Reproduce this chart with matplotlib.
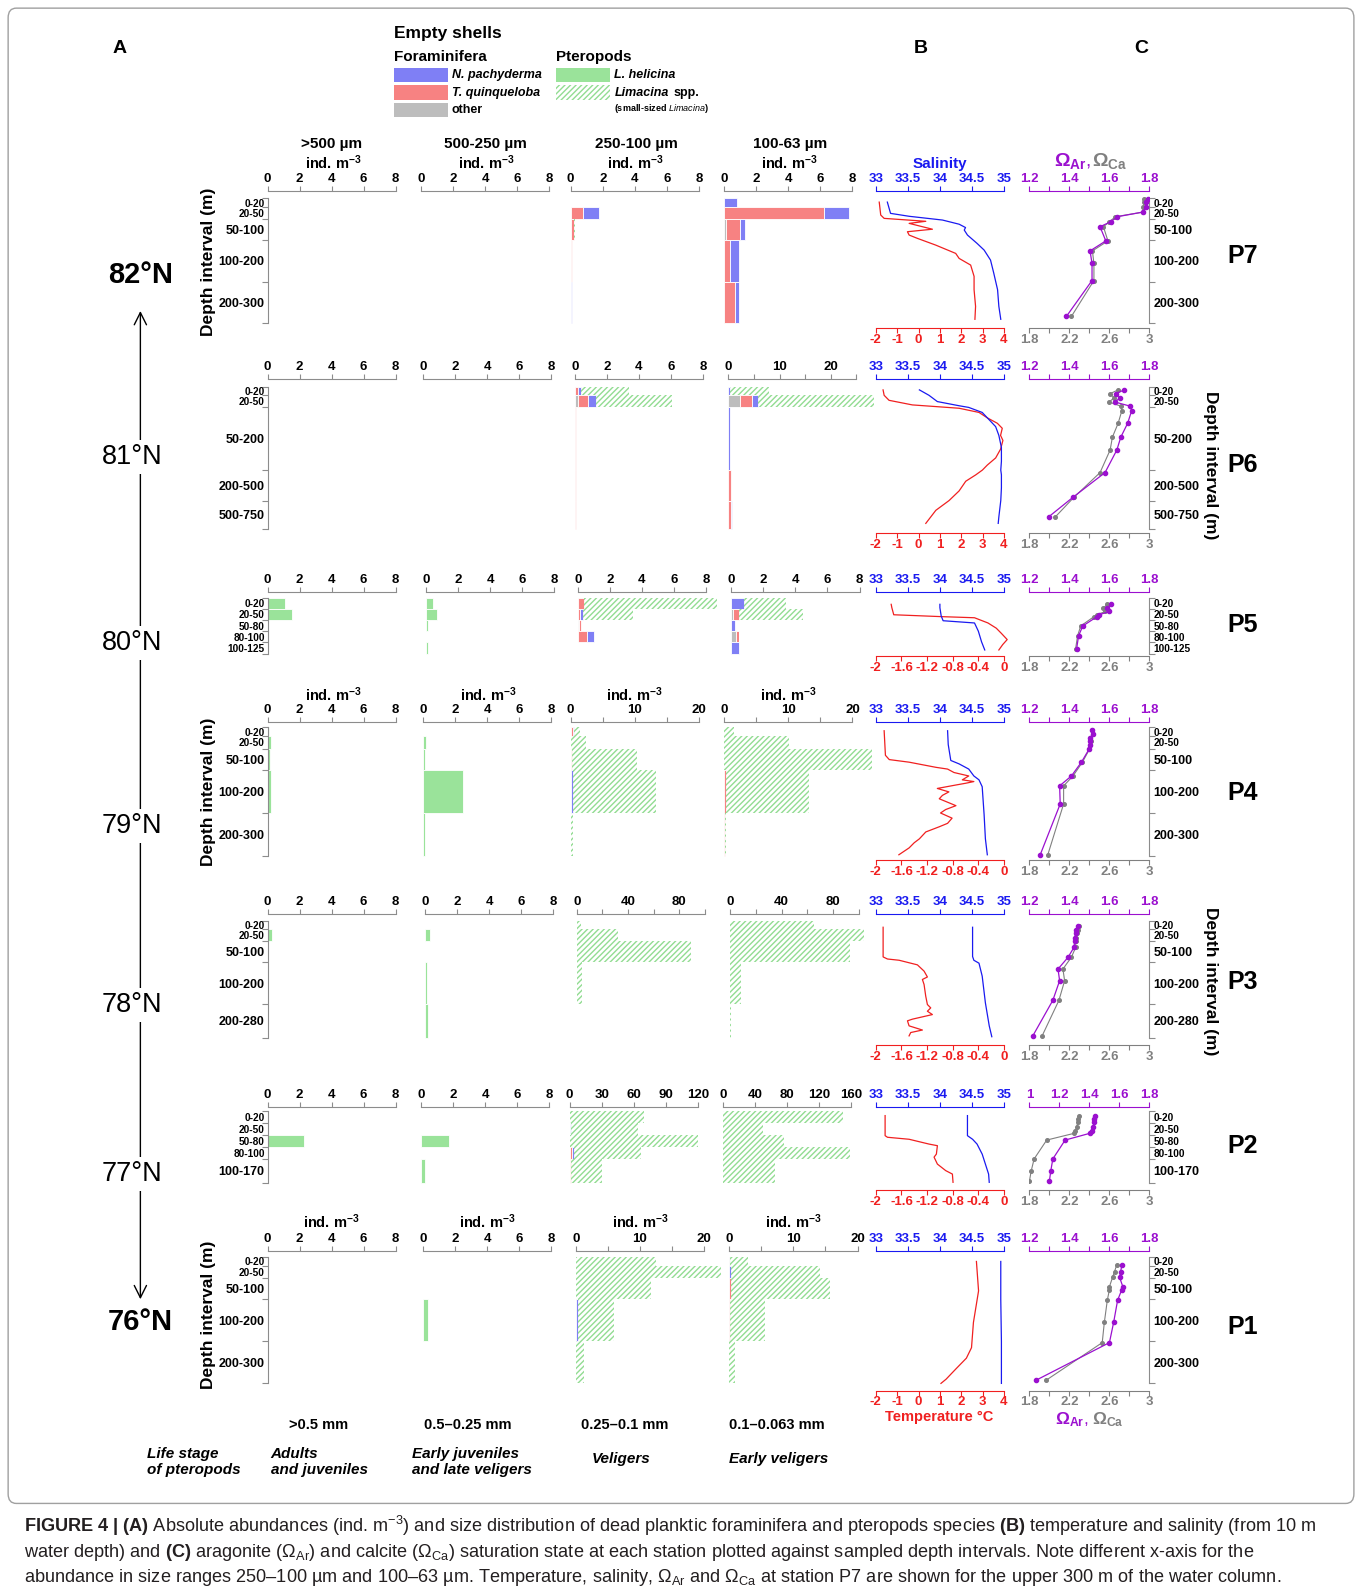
import numpy as np
import matplotlib
matplotlib.use('Agg')
import matplotlib.pyplot as plt
from matplotlib import font_manager
from matplotlib.patches import Rectangle, FancyBboxPatch

# ---------------------------------------------------------------- data
stations = ['P7', 'P6', 'P5', 'P4', 'P3', 'P2', 'P1']
latitudes = ['82°N', '81°N', '80°N', '79°N', '78°N', '77°N', '76°N']
size_classes = ['>500 µm', '500-250 µm', '250-100 µm', '100-63 µm']
size_mm = ['>0.5 mm', '0.5–0.25 mm', '0.25–0.1 mm', '0.1–0.063 mm']
life_stages = ['Adults\nand juveniles', 'Early juveniles\nand late veligers', 'Veligers', 'Early veligers']
groups = ['other', 'T. quinqueloba', 'N. pachyderma', 'L. helicina', 'Limacina spp.']

depth_edges = {
    'P7': [0, 20, 50, 100, 200, 300],
    'P6': [0, 20, 50, 200, 500, 750],
    'P5': [0, 20, 50, 80, 100, 125],
    'P4': [0, 20, 50, 100, 200, 300],
    'P3': [0, 20, 50, 100, 200, 280],
    'P2': [0, 20, 50, 80, 100, 170],
    'P1': [0, 20, 50, 100, 200, 300],
}
# broken / stretched depth axes (depth -> axis units)
depth_axis_breaks = {
    'P6': ([0, 200, 500, 750], [0, 200, 273, 341]),
    'P5': ([0, 20, 50, 80, 100, 125], [0, 26, 52, 78, 104, 130]),
    'P2': ([0, 20, 50, 80, 100, 170], [0, 26, 52, 78, 104, 156]),
}

# abundances (ind. m-3): [size class][depth interval][other, T.q., N.p., L.hel., Limacina spp.]
Z = [0, 0, 0, 0, 0]
ab_P7 = [[Z] * 5, [Z] * 5,
         [[0, 0, 0, 0, 0.05], [0, 0.8, 1.0, 0, 0], [0, 0.2, 0, 0, 0.05], [0, 0.1, 0, 0, 0], [0, 0, 0.1, 0, 0]],
         [[0, 0, 0.8, 0, 0], [0, 6.2, 1.6, 0, 0], [0.1, 0.9, 0.3, 0, 0], [0, 0.35, 0.6, 0, 0], [0, 0.7, 0.2, 0, 0]]]
ab_P6 = [[Z] * 5, [Z] * 5,
         [[0, 0.2, 0.2, 0, 3.0], [0.2, 0.6, 0.5, 0, 4.8], [0, 0.1, 0, 0, 0], [0, 0.1, 0, 0, 0], [0, 0.1, 0, 0, 0]],
         [[0, 0, 0.4, 0, 7.5], [2.2, 2.5, 1.0, 0, 22.8], [0, 0, 0.4, 0, 0], [0, 0.6, 0, 0, 0], [0, 0.5, 0.2, 0, 0]]]
ab_P5 = [[[0, 0, 0, 1.1, 0], [0, 0, 0, 1.5, 0], Z, Z, Z],
         [[0, 0, 0, 0.4, 0], [0, 0, 0, 0.7, 0], [0, 0, 0, 0.1, 0], Z, [0, 0, 0, 0.1, 0]],
         [[0, 0.4, 0, 0, 8.3], [0, 0.15, 0.2, 0, 3.1], [0.05, 0.15, 0, 0, 0], [0, 0.6, 0.4, 0, 0], [0, 0, 0.03, 0, 0]],
         [[0, 0, 0.8, 0, 2.6], [0.1, 0.4, 0, 0, 4.0], [0, 0, 0.2, 0, 0], [0.3, 0.15, 0.05, 0, 0], [0, 0, 0.5, 0, 0]]]
ab_P4 = [[[0, 0, 0, 0.1, 0], [0, 0, 0, 0.2, 0], [0, 0, 0, 0.15, 0], [0, 0, 0, 0.2, 0], Z],
         [Z, [0, 0, 0, 0.2, 0], [0, 0, 0, 0.1, 0], [0, 0, 0, 2.5, 0], [0, 0, 0, 0.1, 0]],
         [[0, 0.4, 0.2, 0, 0.9], [0, 0, 0.1, 0, 2.3], [0, 0.15, 0, 0, 10.2], [0, 0.1, 0.2, 0, 13.0], [0, 0.1, 0, 0, 0.2]],
         [[0, 0, 0, 0, 1.5], [0, 0, 0, 0, 10.1], [0, 0, 0, 0, 23.0], [0, 0.3, 0, 0, 12.9], [0, 0.1, 0, 0, 0.2]]]
ab_P3 = [[Z, [0, 0, 0, 0.3, 0], Z, Z, Z],
         [Z, [0, 0, 0, 0.3, 0], Z, [0, 0, 0, 0.1, 0], [0, 0, 0, 0.2, 0]],
         [[0, 0, 0, 0, 3], [0, 0, 0, 0, 32], [0, 0, 0, 0, 89], [0, 0, 0, 0, 4], [0, 0, 0, 0, 0.5]],
         [[0, 0, 0, 0, 65], [0, 0, 0, 0, 104], [0, 0, 0, 0, 93], [0, 0, 0, 0, 8], [0, 0, 0, 0, 0.5]]]
ab_P2 = [[Z, Z, [0, 0, 0, 2.3, 0], Z, Z],
         [Z, Z, [0, 0, 0, 1.75, 0], Z, [0, 0, 0, 0.25, 0]],
         [[0.5, 0, 0, 0, 69], [0, 0, 1.0, 0, 63], [0, 0, 0, 0, 120], [0, 2.0, 2.5, 0, 62], [0, 1.0, 0, 0, 29]],
         [[0, 0, 0, 0, 150], [0, 0, 0, 0, 50], [0, 0, 0, 0, 76], [0, 0, 0, 0, 158], [0, 0, 0, 0, 65]]]
ab_P1 = [[Z] * 5,
         [Z, Z, Z, [0, 0, 0, 0.3, 0], Z],
         [[0, 0, 0, 0, 12.5], [0, 0, 0, 0, 22.7], [0, 0, 0, 0, 11.8], [0, 0.1, 0.2, 0, 5.7], [0, 0, 0, 0, 1.3]],
         [[0.1, 0, 0, 0, 2.8], [0, 0, 0.2, 0, 14.0], [0, 0.3, 0, 0, 15.4], [0, 0.1, 0, 0, 5.5], [0, 0, 0, 0, 0.9]]]
abundance = {'P7': ab_P7, 'P6': ab_P6, 'P5': ab_P5, 'P4': ab_P4, 'P3': ab_P3, 'P2': ab_P2, 'P1': ab_P1}

# axis maxima of the four abundance panels
bar_xmax = {'P7': [8, 8, 8, 8], 'P6': [8, 8, 8, 25], 'P5': [8, 8, 8, 8], 'P4': [8, 8, 20, 20],
            'P3': [8, 8, 100, 100], 'P2': [8, 8, 120, 160], 'P1': [8, 8, 20, 20]}

# temperature profiles (depth m, °C)
temp_depth = {
    'P7': [9, 40, 48, 55, 60, 74, 80, 88, 96, 112, 132, 144, 160, 187, 219, 259, 290],
    'P6': [8, 21, 33, 44, 48, 52, 62, 75, 88, 100, 117, 129, 150, 171, 188, 200, 247, 310, 405, 500, 586, 701],
    'P5': [12, 18, 36, 41, 44, 58, 72, 84, 95, 105, 117],
    'P4': [8, 65, 75, 81, 93, 97, 105, 113, 122, 126, 130, 134, 142, 150, 158, 166, 182, 191, 199, 211, 223, 231,
           243, 259, 268, 280, 288, 296],
    'P3': [16, 87, 92, 95, 106, 121, 135, 141, 153, 181, 201, 209, 217, 225, 236, 240, 252, 262, 268, 276],
    'P2': [8, 52, 56, 61, 73, 77, 92, 97, 115, 134, 144, 168],
    'P1': [10, 80, 155, 215, 240, 265, 290, 300],
}
temp = {
    'P7': [-1.84, -1.77, -1.61, 0.34, -0.44, 0.65, -0.52, -0.44, -0.05, 0.80, 1.74, 1.90, 2.44, 2.60, 2.60, 2.67, 2.64],
    'P6': [-1.66, -1.61, -1.38, -0.29, 0.81, 1.90, 2.83, 3.22, 3.69, 3.92, 3.84, 3.95, 3.84, 3.61, 3.22, 2.99, 2.68,
           2.21, 1.90, 1.43, 0.81, 0.34],
    'P5': [-1.76, -1.75, -1.72, -0.98, -0.46, -0.25, -0.12, -0.04, 0.05, -0.02, -0.08],
    'P4': [-1.87, -1.85, -1.79, -1.48, -1.06, -0.88, -0.78, -0.55, -0.65, -0.47, -0.60, -0.75, -1.04, -0.86, -0.96,
           -1.01, -0.75, -0.91, -0.99, -0.81, -0.88, -1.01, -1.22, -1.32, -1.40, -1.48, -1.56, -1.64],
    'P3': [-1.886, -1.886, -1.818, -1.636, -1.351, -1.247, -1.195, -1.273, -1.247, -1.221, -1.195, -1.143, -1.195,
           -1.117, -1.429, -1.506, -1.481, -1.273, -1.455, -1.481],
    'P2': [-1.855, -1.855, -1.818, -1.48, -1.169, -1.039, -1.055, -1.091, -1.039, -0.909, -0.805, -0.795],
    'P1': [2.71, 2.81, 2.57, 2.48, 2.24, 1.76, 1.29, 1.05],
}
# salinity profiles (depth m, PSU)
sal_depth = {
    'P7': [9, 36, 43, 52, 62, 70, 76, 88, 108, 124, 148, 179, 219, 259, 290],
    'P6': [8, 21, 36, 46, 50, 62, 83, 96, 117, 146, 179, 200, 247, 375, 500, 644, 701],
    'P5': [12, 18, 39, 52, 58, 80, 99, 117],
    'P4': [8, 40, 77, 85, 97, 113, 122, 138, 203, 259, 296],
    'P3': [16, 86, 95, 102, 133, 197, 252, 278],
    'P2': [8, 52, 61, 73, 92, 115, 144, 168],
    'P1': [10, 100, 200, 300],
}
sal = {
    'P7': [33.18, 33.23, 33.52, 34.04, 34.30, 34.40, 34.38, 34.43, 34.58, 34.69, 34.79, 34.84, 34.90, 34.92, 34.95],
    'P6': [33.68, 33.83, 33.96, 34.30, 34.45, 34.66, 34.79, 34.87, 34.92, 34.96, 34.96, 34.95, 34.96, 34.96, 34.95,
           34.92, 34.91],
    'P5': [34.00, 34.00, 34.02, 34.05, 34.54, 34.60, 34.65, 34.70],
    'P4': [34.12, 34.13, 34.17, 34.30, 34.45, 34.53, 34.61, 34.66, 34.69, 34.71, 34.74],
    'P3': [34.51, 34.51, 34.53, 34.61, 34.66, 34.71, 34.77, 34.81],
    'P2': [34.43, 34.43, 34.51, 34.58, 34.66, 34.71, 34.76, 34.77],
    'P1': [34.95, 34.95, 34.96, 34.96],
}
# saturation states
omega_depth = {
    'P7': [1, 9, 21, 33, 44, 56, 68, 102, 126, 156, 197, 283],
    'P6': [8, 17, 27, 37, 47, 58, 88, 121, 152, 225, 469, 644],
    'P5': [12, 19, 27, 36, 41, 66, 88, 114],
    'P4': [6, 16, 24, 32, 40, 51, 81, 113, 136, 178, 296],
    'P3': [12, 22, 30, 42, 50, 64, 88, 116, 144, 191, 276],
    'P2': [8, 14, 19, 31, 40, 46, 63, 100, 136, 165],
    'P1': [19, 34, 48, 70, 77, 102, 155, 203, 293],
}
omega_ar = {
    'P7': [1.795, 1.783, 1.783, 1.766, 1.640, 1.607, 1.553, 1.582, 1.503, 1.513, 1.513, 1.385],
    'P6': [1.674, 1.632, 1.654, 1.627, 1.704, 1.711, 1.691, 1.657, 1.637, 1.578, 1.417, 1.296],
    'P5': [1.61, 1.59, 1.60, 1.549, 1.538, 1.467, 1.446, 1.436],
    'P4': [1.513, 1.518, 1.502, 1.505, 1.502, 1.498, 1.46, 1.41, 1.351, 1.354, 1.254],
    'P3': [1.443, 1.435, 1.431, 1.426, 1.426, 1.423, 1.393, 1.343, 1.351, 1.317, 1.217],
    'P2': [1.438, 1.433, 1.433, 1.427, 1.42, 1.404, 1.238, 1.156, 1.142, 1.133],
    'P1': [1.662, 1.656, 1.651, 1.667, 1.662, 1.641, 1.621, 1.60, 1.231],
}
omega_ca = {
    'P7': [2.95, 2.945, 2.94, 2.935, 2.66, 2.60, 2.54, 2.585, 2.43, 2.445, 2.445, 2.22],
    'P6': [2.687, 2.607, 2.647, 2.597, 2.714, 2.724, 2.687, 2.630, 2.607, 2.506, 2.244, 2.059],
    'P5': [2.579, 2.538, 2.559, 2.477, 2.446, 2.313, 2.282, 2.262],
    'P4': [2.427, 2.437, 2.41, 2.415, 2.405, 2.40, 2.33, 2.236, 2.142, 2.142, 1.984],
    'P3': [2.296, 2.286, 2.276, 2.269, 2.263, 2.263, 2.219, 2.135, 2.152, 2.095, 1.927],
    'P2': [2.30, 2.29, 2.283, 2.273, 2.26, 2.25, 1.973, 1.847, 1.817, 1.80],
    'P1': [2.672, 2.651, 2.631, 2.60, 2.60, 2.579, 2.549, 2.528, 1.964],
}
temp_range = {'P7': (-2, 4), 'P6': (-2, 4), 'P5': (-2, 0), 'P4': (-2, 0), 'P3': (-2, 0), 'P2': (-2, 0), 'P1': (-2, 4)}
ar_range = {'P7': (1.2, 1.8), 'P6': (1.2, 1.8), 'P5': (1.2, 1.8), 'P4': (1.2, 1.8), 'P3': (1.2, 1.8),
            'P2': (1.0, 1.8), 'P1': (1.2, 1.8)}
ca_range = (1.8, 3.0)
sal_range = (33, 35)

# ---------------------------------------------------------------- style
W, H = 1360, 1595
SC = 1360 / 1337.0
names = {f.name for f in font_manager.fontManager.ttflist}
NARROW = 'Liberation Sans Narrow' if 'Liberation Sans Narrow' in names else 'Liberation Sans'
plt.rcParams['font.family'] = ['Liberation Sans', 'DejaVu Sans']
plt.rcParams['mathtext.fontset'] = 'custom'
plt.rcParams['mathtext.rm'] = 'Liberation Sans'
plt.rcParams['mathtext.it'] = 'Liberation Sans:italic'
plt.rcParams['mathtext.bf'] = 'Liberation Sans:bold'
plt.rcParams['hatch.linewidth'] = 1.0

C_OTHER, C_TQ, C_NP, C_LH, C_HATCH = '#BDBDBD', '#F78282', '#7F7FF5', '#9AE39A', '#92DC92'
C_SAL, C_TEMP, C_AR, C_CA, C_AX = '#1A1AF0', '#F02020', '#9B10CF', '#808080', '#8C8C8C'
group_colors = [C_OTHER, C_TQ, C_NP, C_LH]

# layout (reference pixels): top spine, 0 m, deepest edge, bottom spine
row_layout = {
    'P7': (188, 195, 318, 322), 'P6': (373, 380, 520, 524), 'P5': (582, 587.5, 642.5, 645),
    'P4': (710, 715, 842, 845), 'P3': (899, 905, 1020, 1027), 'P2': (1088, 1092, 1163, 1170),
    'P1': (1230, 1236, 1360, 1367)}
bar_x0 = {'P7': [263, 414, 561, 712], 'P6': [263, 416, 565, 716], 'P5': [263, 419, 568, 719],
          'P4': [263, 416, 561, 712], 'P3': [263, 418, 567, 718], 'P2': [263, 414, 560, 711],
          'P1': [263, 416, 566, 717]}
PW = 126
B_X = (861, 987)
C_X = (1012, 1130)
label_y = {'P7': 252, 'P6': 457, 'P5': 614, 'P4': 780, 'P3': 965, 'P2': 1127, 'P1': 1305}
lat_y = [270, 449, 632, 812, 988, 1154, 1300]
TL, TP = 3.5, 0.8   # tick length / label pad

fig = plt.figure(figsize=(W / 100, H / 100), dpi=100)


def fx(x):
    return x * SC / W


def fy(y):
    return 1 - y * SC / H


def add_ax(x0, x1, y0, y1):
    return fig.add_axes([fx(x0), fy(y1), fx(x1) - fx(x0), fy(y0) - fy(y1)])


def ftext(x, y, s, **kw):
    return fig.text(fx(x), fy(y), s, **kw)


def depth_funcs(st):
    d_bp, u_bp = depth_axis_breaks.get(st, ([0, 1], [0, 1]))
    d_bp = np.asarray(d_bp, float)
    u_bp = np.asarray(u_bp, float)
    s0 = (u_bp[1] - u_bp[0]) / (d_bp[1] - d_bp[0])
    s1 = (u_bp[-1] - u_bp[-2]) / (d_bp[-1] - d_bp[-2])
    D = np.concatenate([[d_bp[0] - 1e4], d_bp, [d_bp[-1] + 1e4]])
    U = np.concatenate([[u_bp[0] - 1e4 * s0], u_bp, [u_bp[-1] + 1e4 * s1]])
    return (lambda d: np.interp(d, D, U)), (lambda u: np.interp(u, U, D))


def setup_depth(ax, st):
    fwd, inv = depth_funcs(st)
    ax.set_yscale('function', functions=(fwd, inv))
    top, y0, ymax, bot = row_layout[st]
    umax = float(fwd(depth_edges[st][-1]))
    ppu = (ymax - y0) / umax
    u_top = -(y0 - top) / ppu
    u_bot = umax + (bot - ymax) / ppu
    ax.set_ylim(float(inv(u_bot)), float(inv(u_top)))
    return fwd, ppu


def clean(ax):
    for s in ax.spines.values():
        s.set_visible(False)
    ax.patch.set_visible(False)


def fmt(v):
    return '%g' % (round(v, 2) + 0.0)


def depth_labels(ax, st, side, ppu, fwd):
    e = depth_edges[st]
    ue = [float(fwd(x)) for x in e]
    mids = [float(np.interp(0.5 * (a + b), ue, e)) for a, b in zip(ue[:-1], ue[1:])]
    labs = ['%d-%d' % (a, b) for a, b in zip(e[:-1], e[1:])]
    ax.spines[side].set_visible(True)
    ax.spines[side].set_color(C_AX)
    ax.spines[side].set_bounds(0, e[-1])
    ax.set_yticks(e)
    ax.set_yticks(mids, labs, minor=True)
    if side == 'right':
        ax.yaxis.tick_right()
    ax.tick_params(axis='y', which='major', length=4, color=C_AX, labelleft=False, labelright=False,
                   left=(side == 'left'), right=(side == 'right'))
    ax.tick_params(axis='y', which='minor', length=0, pad=2 if side == 'left' else 3,
                   left=False, right=False, labelleft=(side == 'left'), labelright=(side == 'right'))
    for t, a, b in zip(ax.get_yticklabels(minor=True), ue[:-1], ue[1:]):
        h = (b - a) * ppu
        t.set_fontsize(7.3 if h < 14 else 9)
        t.set_fontweight('bold')
        t.set_fontfamily(NARROW)


major_step = {8: 2, 25: 10, 20: 10, 100: 40, 120: 30, 160: 40}
minor_step = {25: 5, 20: 5, 100: 20}

for si, st in enumerate(stations):
    top, y0, ymax, bot = row_layout[st]
    e = depth_edges[st]
    # ----- abundance panels
    for p in range(4):
        x0 = bar_x0[st][p]
        ax = add_ax(x0, x0 + PW, top, bot)
        fwd, ppu = setup_depth(ax, st)
        clean(ax)
        xm = bar_xmax[st][p]
        ax.set_xlim(0, xm)
        for i in range(len(e) - 1):
            left = 0.0
            vals = abundance[st][p][i]
            for g in range(5):
                v = vals[g]
                if v <= 0:
                    continue
                if g < 4:
                    ax.barh(e[i], v, height=e[i + 1] - e[i], left=left, align='edge',
                            color=group_colors[g], edgecolor='white', linewidth=0.6, clip_on=False)
                else:
                    ax.barh(e[i], v, height=e[i + 1] - e[i], left=left, align='edge',
                            facecolor='none', edgecolor=C_HATCH, hatch='//////', linewidth=0, clip_on=False)
                left += v
        ax.xaxis.tick_top()
        ax.spines['top'].set_visible(True)
        ax.spines['top'].set_color(C_AX)
        ax.spines['top'].set_bounds(0, xm)
        maj = np.arange(0, xm + 1e-9, major_step[xm])
        ticks = list(maj)
        labels = [fmt(t) for t in maj]
        if xm in minor_step:
            allt = np.arange(0, xm + 1e-9, minor_step[xm])
            ticks = list(allt)
            labels = [fmt(t) if np.isclose(t % major_step[xm], 0) or np.isclose(t % major_step[xm], major_step[xm])
                      else '' for t in allt]
        ax.set_xticks(ticks, labels)
        ax.tick_params(axis='x', which='major', length=TL, color=C_AX, pad=TP, labelsize=9.5)
        for t in ax.get_xticklabels():
            t.set_fontweight('bold')
            t.set_fontfamily(NARROW)
        if p == 0:
            depth_labels(ax, st, 'left', ppu, fwd)
        else:
            ax.tick_params(axis='y', which='both', left=False, labelleft=False)
            ax.set_yticks([])

    # ----- B: temperature & salinity
    axb = add_ax(B_X[0], B_X[1], top, bot)
    setup_depth(axb, st)
    clean(axb)
    axb.set_yticks([])
    axb.set_xlim(*temp_range[st])
    axb.plot(temp[st], temp_depth[st], color=C_TEMP, lw=0.9, clip_on=False)
    axb.spines['bottom'].set_visible(True)
    axb.spines['bottom'].set_color(C_TEMP)
    lo, hi = temp_range[st]
    tt = np.arange(lo, hi + 1e-9, 1 if hi - lo > 3 else 0.4)
    axb.set_xticks(tt, [fmt(t) for t in tt])
    axb.tick_params(axis='x', length=TL, color=C_TEMP, labelcolor=C_TEMP, labelsize=9.5, pad=TP)
    for t in axb.get_xticklabels():
        t.set_fontweight('bold')
    axs = axb.twiny()
    clean(axs)
    axs.set_xlim(*sal_range)
    axs.plot(sal[st], sal_depth[st], color=C_SAL, lw=0.9)
    axs.spines['top'].set_visible(True)
    axs.spines['top'].set_color(C_SAL)
    axs.set_xticks([33, 33.5, 34, 34.5, 35], ['33', '33.5', '34', '34.5', '35'])
    axs.tick_params(axis='x', length=TL, color=C_SAL, labelcolor=C_SAL, labelsize=9.5, pad=TP)
    for t in axs.get_xticklabels():
        t.set_fontweight('bold')

    # ----- C: saturation states
    axc = add_ax(C_X[0], C_X[1], top, bot)
    fwd, ppu = setup_depth(axc, st)
    clean(axc)
    axc.set_xlim(*ca_range)
    axc.plot(omega_ca[st], omega_depth[st], '-o', color=C_CA, lw=0.8, ms=2.6)
    axc.spines['bottom'].set_visible(True)
    axc.spines['bottom'].set_color(C_CA)
    axc.set_xticks([1.8, 2.0, 2.2, 2.4, 2.6, 2.8, 3.0], ['1.8', '', '2.2', '', '2.6', '', '3'])
    axc.tick_params(axis='x', length=TL, color=C_CA, labelcolor=C_CA, labelsize=9.5, pad=TP)
    for t in axc.get_xticklabels():
        t.set_fontweight('bold')
    depth_labels(axc, st, 'right', ppu, fwd)
    axa = axc.twiny()
    clean(axa)
    lo, hi = ar_range[st]
    axa.set_xlim(lo, hi)
    axa.plot(omega_ar[st], omega_depth[st], '-o', color=C_AR, lw=0.9, ms=3)
    axa.spines['top'].set_visible(True)
    axa.spines['top'].set_color(C_AR)
    if lo < 1.1:
        at = [1.0, 1.2, 1.4, 1.6, 1.8]
        al = ['1', '1.2', '1.4', '1.6', '1.8']
    else:
        at = [1.2, 1.3, 1.4, 1.5, 1.6, 1.7, 1.8]
        al = ['1.2', '', '1.4', '', '1.6', '', '1.8']
    axa.set_xticks(at, al)
    axa.tick_params(axis='x', length=TL, color=C_AR, labelcolor=C_AR, labelsize=9.5, pad=TP)
    for t in axa.get_xticklabels():
        t.set_fontweight('bold')

    # station label
    ftext(1222, label_y[st], st, fontsize=18, fontweight='bold', ha='center', va='center')

# ---------------------------------------------------------------- headers & annotations
hdr_x = [326, 477, 626, 777]
for p in range(4):
    ftext(hdr_x[p], 142, size_classes[p], fontsize=11, fontweight='bold', ha='center', va='center')
for yy, xs in [(160, [328, 478, 625, 776]), (683, [328, 480, 624, 775]), (1201, [326, 479, 629, 780])]:
    for x in xs:
        ftext(x, yy, 'ind. m$^{\\mathbf{-3}}$', fontsize=10.5, fontweight='bold', ha='center', va='center')

OM_AR = '$\\mathbf{\\Omega}_{\\mathbf{Ar}}$,'
OM_CA = '$\\mathbf{\\Omega}_{\\mathbf{Ca}}$'
ftext(924, 161, 'Salinity', fontsize=11, fontweight='bold', color=C_SAL, ha='center', va='center')
ftext(1054, 158, OM_AR, fontsize=14, color=C_AR, ha='center', va='center')
ftext(1091, 158, OM_CA, fontsize=14, color=C_CA, ha='center', va='center')
ftext(923, 1393, 'Temperature °C', fontsize=10.5, fontweight='bold', color=C_TEMP, ha='center', va='center')
ftext(1054, 1396, OM_AR, fontsize=12.5, color=C_AR, ha='center', va='center')
ftext(1089, 1396, OM_CA, fontsize=12.5, color=C_CA, ha='center', va='center')

for yy in [257, 778, 1293]:
    ftext(205, yy, 'Depth interval (m)', fontsize=12.5, fontweight='bold', rotation=90, ha='center', va='center')
for yy in [457, 965]:
    ftext(1190, yy, 'Depth interval (m)', fontsize=12.5, fontweight='bold', rotation=270, ha='center', va='center')

ftext(118, 48, 'A', fontsize=14, fontweight='bold', ha='center', va='center')
ftext(905, 48, 'B', fontsize=14, fontweight='bold', ha='center', va='center')
ftext(1122, 48, 'C', fontsize=14, fontweight='bold', ha='center', va='center')

# latitude arrow
fig.add_artist(matplotlib.patches.FancyArrowPatch((fx(138), fy(303)), (fx(138), fy(1280)), transform=fig.transFigure,
                                                  arrowstyle='<->', mutation_scale=22, lw=1.0, color='black'))
for i, (lat, yy) in enumerate(zip(latitudes, lat_y)):
    bold = i in (0, len(latitudes) - 1)
    ftext(138 if bold else 130, yy, lat, fontsize=21 if bold else 19.5, fontweight='bold' if bold else 'normal',
          ha='center', va='center', bbox=dict(facecolor='white', edgecolor='none', pad=3) if not bold else None)

# bottom labels
for x, s in zip([313, 460, 614, 764], size_mm):
    ftext(x, 1401, s, fontsize=10.5, fontweight='bold', ha='center', va='center')
ftext(145, 1437, 'Life stage\nof pteropods', fontsize=11, fontweight='bold', style='italic', ha='left', va='center',
      linespacing=1.15)
for x, s in zip([266, 405, 582, 717], life_stages):
    ftext(x, 1437 if '\n' in s else 1434, s, fontsize=11, fontweight='bold', style='italic', ha='left', va='center',
          linespacing=1.15)

# legend
ftext(387, 33, 'Empty shells', fontsize=12.5, fontweight='bold', ha='left', va='center')
ftext(387, 56, 'Foraminifera', fontsize=11, fontweight='bold', ha='left', va='center')
ftext(547, 56, 'Pteropods', fontsize=11, fontweight='bold', ha='left', va='center')
leg = [(387, 67, C_NP, None, 'N. pachyderma'), (387, 84, C_TQ, None, 'T. quinqueloba'),
       (387, 101, C_OTHER, None, 'other'), (547, 67, C_LH, None, 'L. helicina'),
       (547, 84, 'none', '//////', None)]
for x, y, c, h, lab in leg:
    fig.add_artist(Rectangle((fx(x), fy(y + 14)), fx(53), fy(0) - fy(14), transform=fig.transFigure,
                             facecolor=c, edgecolor=C_HATCH if h else 'none', hatch=h, linewidth=0))
    if lab:
        ftext(x + 57, y + 7, lab, fontsize=9, fontweight='bold',
              style='normal' if lab == 'other' else 'italic', ha='left', va='center')
ftext(604, 91, 'Limacina', fontsize=9, fontweight='bold', style='italic', ha='left', va='center')
ftext(662, 91, 'spp.', fontsize=9, fontweight='bold', ha='left', va='center')
ftext(604, 107, '(small-sized $\\it{Limacina}$)', fontsize=6.5, fontweight='bold', ha='left', va='center')

# frame
fig.add_artist(FancyBboxPatch((fx(8), fy(1478)), fx(1323), fy(8) - fy(1478), boxstyle='round,pad=0,rounding_size=0.006',
                              transform=fig.transFigure, facecolor='none', edgecolor='#A0A0A0', lw=1.0))

# caption
cap = [
    '$\\bf{FIGURE\\ 4\\ |\\ (A)}$ Absolute abundances (ind. m$^{-3}$) and size distribution of dead planktic foraminifera and pteropods species $\\bf{(B)}$ temperature and salinity (from 10 m',
    'water depth) and $\\bf{(C)}$ aragonite ($\\Omega_{\\rm Ar}$) and calcite ($\\Omega_{\\rm Ca}$) saturation state at each station plotted against sampled depth intervals. Note different x-axis for the',
    'abundance in size ranges 250–100 µm and 100–63 µm. Temperature, salinity, $\\Omega_{\\rm Ar}$ and $\\Omega_{\\rm Ca}$ at station P7 are shown for the upper 300 m of the water column.',
]
for yy, s in zip([1500, 1526, 1551], cap):
    ftext(24, yy, s, fontsize=13.1, ha='left', va='center', color='#231F20')

fig.savefig('out.png', dpi=100)
